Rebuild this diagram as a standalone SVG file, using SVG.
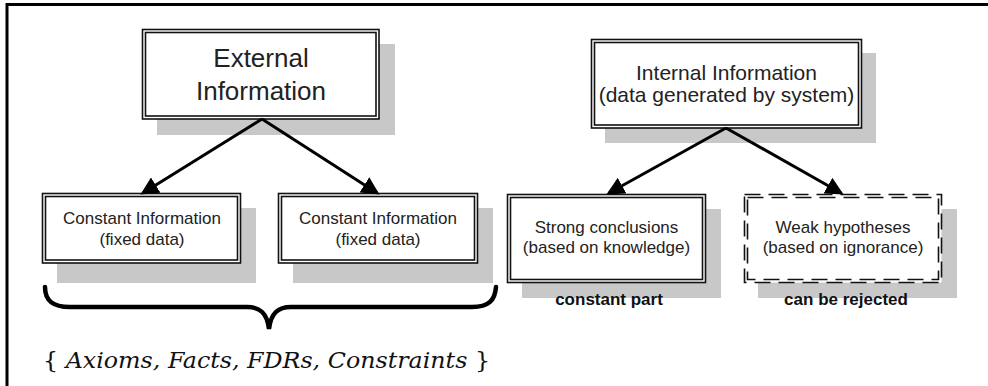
<svg xmlns="http://www.w3.org/2000/svg" width="988" height="386" viewBox="0 0 988 386">
<defs>
<style>
.sh{fill:#c8c8c8;stroke:none}
.o{fill:#fff;stroke:#111;stroke-width:1.6}
.i{fill:none;stroke:#111;stroke-width:1.6}
.d{stroke-dasharray:16 8}
.t{font-family:"Liberation Sans",Arial,sans-serif;fill:#222;text-anchor:middle}
.b{font-family:"Liberation Sans",Arial,sans-serif;font-weight:bold;fill:#111;text-anchor:middle;font-size:17px}
.c{stroke:#000;stroke-width:3;fill:none}
</style>
<marker id="ah" markerWidth="6" markerHeight="6" refX="5" refY="3" orient="auto" markerUnits="strokeWidth">
<path d="M0,0 L6,3 L0,6 z" fill="#000"/>
</marker>
</defs>
<rect width="988" height="386" fill="#fff"/>
<path d="M7,386 V4.5 H988" fill="none" stroke="#000" stroke-width="3"/>

<g id="external">
<rect class="sh" x="157" y="44" width="238" height="91"/>
<rect class="o" x="142.5" y="29.5" width="236.5" height="89.5"/>
<rect class="i" x="145.5" y="32.5" width="230.5" height="83.5"/>
<text class="t" x="261" y="67" font-size="26">External</text>
<text class="t" x="261" y="100" font-size="26">Information</text>
</g>

<g id="const1">
<rect class="sh" x="57" y="208" width="199" height="75"/>
<rect class="o" x="42.5" y="193.5" width="198" height="69.5"/>
<rect class="i" x="45.5" y="196.5" width="192" height="63.5"/>
<text class="t" x="142" y="224" font-size="17">Constant Information</text>
<text class="t" x="142" y="245" font-size="17">(fixed data)</text>
</g>

<g id="const2">
<rect class="sh" x="293" y="208" width="200" height="75"/>
<rect class="o" x="278.5" y="193.5" width="199" height="69.5"/>
<rect class="i" x="281.5" y="196.5" width="193" height="63.5"/>
<text class="t" x="378" y="224" font-size="17">Constant Information</text>
<text class="t" x="378" y="245" font-size="17">(fixed data)</text>
</g>

<g id="internal">
<rect class="sh" x="605" y="53" width="271" height="90"/>
<rect class="o" x="591.5" y="39.5" width="270" height="88.5"/>
<rect class="i" x="594.5" y="42.5" width="264" height="82.5"/>
<text class="t" x="726.5" y="80" font-size="21">Internal Information</text>
<text class="t" x="726.5" y="102" font-size="21">(data generated by system)</text>
</g>

<g id="strong">
<rect class="sh" x="522" y="209" width="199" height="89"/>
<rect class="o" x="507.5" y="194.5" width="198" height="88"/>
<rect class="i" x="510.5" y="197.5" width="192" height="82"/>
<text class="t" x="606.5" y="233" font-size="17">Strong conclusions</text>
<text class="t" x="606.5" y="253" font-size="17">(based on knowledge)</text>
<text class="b" x="609" y="305">constant part</text>
</g>

<g id="weak">
<rect class="sh" x="758" y="209" width="199" height="89"/>
<rect class="o d" x="744.5" y="194.5" width="197" height="88"/>
<rect class="i d" x="747.5" y="197.5" width="191" height="82"/>
<text class="t" x="843" y="233" font-size="17">Weak hypotheses</text>
<text class="t" x="843" y="253" font-size="17">(based on ignorance)</text>
<text class="b" x="846" y="305">can be rejected</text>
</g>

<g id="connectors">
<line class="c" x1="262" y1="119" x2="143" y2="193" marker-end="url(#ah)"/>
<line class="c" x1="262" y1="119" x2="377" y2="193" marker-end="url(#ah)"/>
<line class="c" x1="726" y1="128" x2="609" y2="193" marker-end="url(#ah)"/>
<line class="c" x1="726" y1="128" x2="841" y2="193" marker-end="url(#ah)"/>
</g>

<g id="brace">
<path d="M45,287 C45,300 52,307 70,307 L247,307 C260,307 267,313 269,329 C271,313 278,307 291,307 L472,307 C489,307 495,300 496,287" fill="none" stroke="#000" stroke-width="4.5" stroke-linecap="round"/>
<text x="43" y="368" font-family="'DejaVu Serif','Liberation Serif',serif" font-size="23" fill="#111" textLength="447" lengthAdjust="spacingAndGlyphs">{ <tspan font-style="italic">Axioms, Facts, FDRs, Constraints</tspan> }</text>
</g>
</svg>
